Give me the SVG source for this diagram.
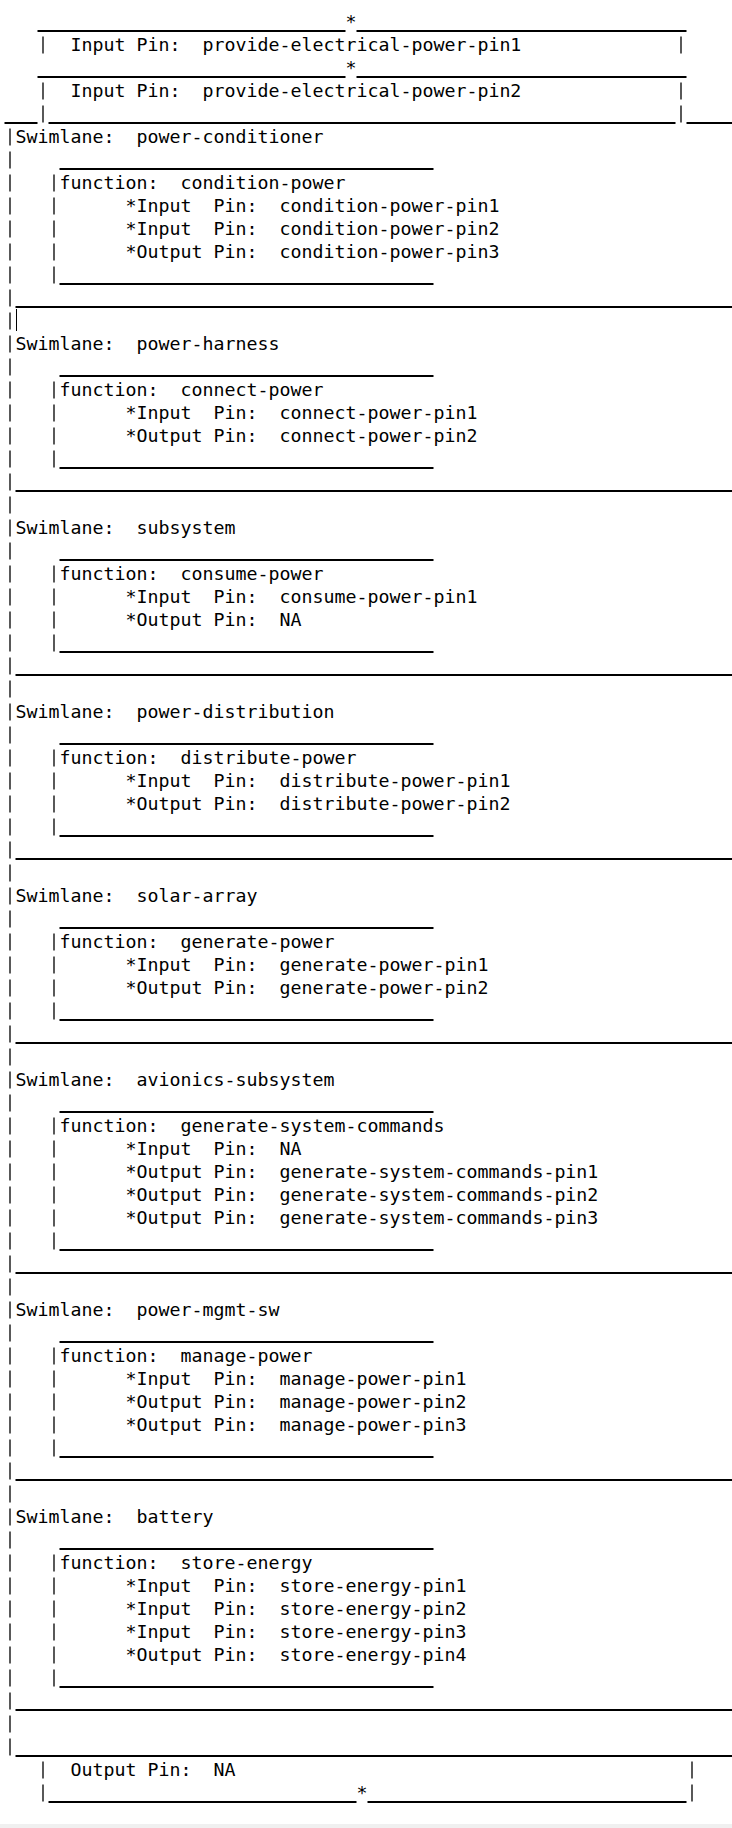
<svg xmlns="http://www.w3.org/2000/svg" width="732" height="1828" viewBox="0 0 732 1828">
<style>
.t{font-family:"DejaVu Sans Mono","Liberation Mono",monospace;font-size:18.27px;fill:#000;white-space:pre}
.s{font-family:"DejaVu Sans Mono","Liberation Mono",monospace;font-size:18.27px;fill:#000;text-anchor:middle}
.u{stroke:#000;stroke-width:2;fill:none}
.p{stroke:#000;stroke-width:1.3;fill:none;stroke-dasharray:17 6}
</style>
<rect x="0" y="0" width="732" height="1828" fill="#fff"/>
<rect x="0" y="1824" width="732" height="4" fill="#f0f0f0"/>

<g id="input-pin-1">
<line class="u" x1="37.5" y1="31" x2="345.5" y2="31"/>
<line class="u" x1="356.5" y1="31" x2="686.5" y2="31"/>
<text class="s" x="351" y="27.5">*</text>
<line class="p" x1="43" y1="36.5" x2="43" y2="53.5"/>
<line class="p" x1="681" y1="36.5" x2="681" y2="53.5"/>
<text class="t" x="70.5" y="50.5" xml:space="preserve">Input Pin:  provide-electrical-power-pin1</text>
</g>

<g id="input-pin-2">
<line class="u" x1="37.5" y1="77" x2="345.5" y2="77"/>
<line class="u" x1="356.5" y1="77" x2="686.5" y2="77"/>
<text class="s" x="351" y="73.5">*</text>
<line class="p" x1="43" y1="82.5" x2="43" y2="122.5"/>
<line class="p" x1="681" y1="82.5" x2="681" y2="122.5"/>
<text class="t" x="70.5" y="96.5" xml:space="preserve">Input Pin:  provide-electrical-power-pin2</text>
<line class="u" x1="4.5" y1="123" x2="37.5" y2="123"/>
<line class="u" x1="48.5" y1="123" x2="675.5" y2="123"/>
<line class="u" x1="686.5" y1="123" x2="732" y2="123"/>
</g>

<g id="swimlane-border">
<line class="p" x1="10" y1="128.5" x2="10" y2="1755.5"/>
<line stroke="#000" stroke-width="1" x1="16.5" y1="309" x2="16.5" y2="331"/>
</g>

<g id="swimlane-power-conditioner">
<text class="t" x="15.5" y="142.5" xml:space="preserve">Swimlane:  power-conditioner</text>
<line class="u" x1="59.5" y1="169" x2="433.5" y2="169"/>
<line class="p" x1="54" y1="174.5" x2="54" y2="283.5"/>
<text class="t" x="59.5" y="188.5" xml:space="preserve">function:  condition-power</text>
<text class="t" x="125.5" y="211.5" xml:space="preserve">*Input  Pin:  condition-power-pin1</text>
<text class="t" x="125.5" y="234.5" xml:space="preserve">*Input  Pin:  condition-power-pin2</text>
<text class="t" x="125.5" y="257.5" xml:space="preserve">*Output Pin:  condition-power-pin3</text>
<line class="u" x1="59.5" y1="284" x2="433.5" y2="284"/>
<line class="u" x1="15.5" y1="307" x2="732" y2="307"/>
</g>

<g id="swimlane-power-harness">
<text class="t" x="15.5" y="349.5" xml:space="preserve">Swimlane:  power-harness</text>
<line class="u" x1="59.5" y1="376" x2="433.5" y2="376"/>
<line class="p" x1="54" y1="381.5" x2="54" y2="467.5"/>
<text class="t" x="59.5" y="395.5" xml:space="preserve">function:  connect-power</text>
<text class="t" x="125.5" y="418.5" xml:space="preserve">*Input  Pin:  connect-power-pin1</text>
<text class="t" x="125.5" y="441.5" xml:space="preserve">*Output Pin:  connect-power-pin2</text>
<line class="u" x1="59.5" y1="468" x2="433.5" y2="468"/>
<line class="u" x1="15.5" y1="491" x2="732" y2="491"/>
</g>

<g id="swimlane-subsystem">
<text class="t" x="15.5" y="533.5" xml:space="preserve">Swimlane:  subsystem</text>
<line class="u" x1="59.5" y1="560" x2="433.5" y2="560"/>
<line class="p" x1="54" y1="565.5" x2="54" y2="651.5"/>
<text class="t" x="59.5" y="579.5" xml:space="preserve">function:  consume-power</text>
<text class="t" x="125.5" y="602.5" xml:space="preserve">*Input  Pin:  consume-power-pin1</text>
<text class="t" x="125.5" y="625.5" xml:space="preserve">*Output Pin:  NA</text>
<line class="u" x1="59.5" y1="652" x2="433.5" y2="652"/>
<line class="u" x1="15.5" y1="675" x2="732" y2="675"/>
</g>

<g id="swimlane-power-distribution">
<text class="t" x="15.5" y="717.5" xml:space="preserve">Swimlane:  power-distribution</text>
<line class="u" x1="59.5" y1="744" x2="433.5" y2="744"/>
<line class="p" x1="54" y1="749.5" x2="54" y2="835.5"/>
<text class="t" x="59.5" y="763.5" xml:space="preserve">function:  distribute-power</text>
<text class="t" x="125.5" y="786.5" xml:space="preserve">*Input  Pin:  distribute-power-pin1</text>
<text class="t" x="125.5" y="809.5" xml:space="preserve">*Output Pin:  distribute-power-pin2</text>
<line class="u" x1="59.5" y1="836" x2="433.5" y2="836"/>
<line class="u" x1="15.5" y1="859" x2="732" y2="859"/>
</g>

<g id="swimlane-solar-array">
<text class="t" x="15.5" y="901.5" xml:space="preserve">Swimlane:  solar-array</text>
<line class="u" x1="59.5" y1="928" x2="433.5" y2="928"/>
<line class="p" x1="54" y1="933.5" x2="54" y2="1019.5"/>
<text class="t" x="59.5" y="947.5" xml:space="preserve">function:  generate-power</text>
<text class="t" x="125.5" y="970.5" xml:space="preserve">*Input  Pin:  generate-power-pin1</text>
<text class="t" x="125.5" y="993.5" xml:space="preserve">*Output Pin:  generate-power-pin2</text>
<line class="u" x1="59.5" y1="1020" x2="433.5" y2="1020"/>
<line class="u" x1="15.5" y1="1043" x2="732" y2="1043"/>
</g>

<g id="swimlane-avionics-subsystem">
<text class="t" x="15.5" y="1085.5" xml:space="preserve">Swimlane:  avionics-subsystem</text>
<line class="u" x1="59.5" y1="1112" x2="433.5" y2="1112"/>
<line class="p" x1="54" y1="1117.5" x2="54" y2="1249.5"/>
<text class="t" x="59.5" y="1131.5" xml:space="preserve">function:  generate-system-commands</text>
<text class="t" x="125.5" y="1154.5" xml:space="preserve">*Input  Pin:  NA</text>
<text class="t" x="125.5" y="1177.5" xml:space="preserve">*Output Pin:  generate-system-commands-pin1</text>
<text class="t" x="125.5" y="1200.5" xml:space="preserve">*Output Pin:  generate-system-commands-pin2</text>
<text class="t" x="125.5" y="1223.5" xml:space="preserve">*Output Pin:  generate-system-commands-pin3</text>
<line class="u" x1="59.5" y1="1250" x2="433.5" y2="1250"/>
<line class="u" x1="15.5" y1="1273" x2="732" y2="1273"/>
</g>

<g id="swimlane-power-mgmt-sw">
<text class="t" x="15.5" y="1315.5" xml:space="preserve">Swimlane:  power-mgmt-sw</text>
<line class="u" x1="59.5" y1="1342" x2="433.5" y2="1342"/>
<line class="p" x1="54" y1="1347.5" x2="54" y2="1456.5"/>
<text class="t" x="59.5" y="1361.5" xml:space="preserve">function:  manage-power</text>
<text class="t" x="125.5" y="1384.5" xml:space="preserve">*Input  Pin:  manage-power-pin1</text>
<text class="t" x="125.5" y="1407.5" xml:space="preserve">*Output Pin:  manage-power-pin2</text>
<text class="t" x="125.5" y="1430.5" xml:space="preserve">*Output Pin:  manage-power-pin3</text>
<line class="u" x1="59.5" y1="1457" x2="433.5" y2="1457"/>
<line class="u" x1="15.5" y1="1480" x2="732" y2="1480"/>
</g>

<g id="swimlane-battery">
<text class="t" x="15.5" y="1522.5" xml:space="preserve">Swimlane:  battery</text>
<line class="u" x1="59.5" y1="1549" x2="433.5" y2="1549"/>
<line class="p" x1="54" y1="1554.5" x2="54" y2="1686.5"/>
<text class="t" x="59.5" y="1568.5" xml:space="preserve">function:  store-energy</text>
<text class="t" x="125.5" y="1591.5" xml:space="preserve">*Input  Pin:  store-energy-pin1</text>
<text class="t" x="125.5" y="1614.5" xml:space="preserve">*Input  Pin:  store-energy-pin2</text>
<text class="t" x="125.5" y="1637.5" xml:space="preserve">*Input  Pin:  store-energy-pin3</text>
<text class="t" x="125.5" y="1660.5" xml:space="preserve">*Output Pin:  store-energy-pin4</text>
<line class="u" x1="59.5" y1="1687" x2="433.5" y2="1687"/>
<line class="u" x1="15.5" y1="1710" x2="732" y2="1710"/>
<line class="u" x1="15.5" y1="1756" x2="732" y2="1756"/>
</g>

<g id="output-pin">
<line class="p" x1="43" y1="1761.5" x2="43" y2="1801.5"/>
<line class="p" x1="692" y1="1761.5" x2="692" y2="1801.5"/>
<text class="t" x="70.5" y="1775.5" xml:space="preserve">Output Pin:  NA</text>
<line class="u" x1="48.5" y1="1802" x2="356.5" y2="1802"/>
<line class="u" x1="367.5" y1="1802" x2="686.5" y2="1802"/>
<text class="s" x="362" y="1798.5">*</text>
</g>

<g id="connectors"></g>
</svg>
